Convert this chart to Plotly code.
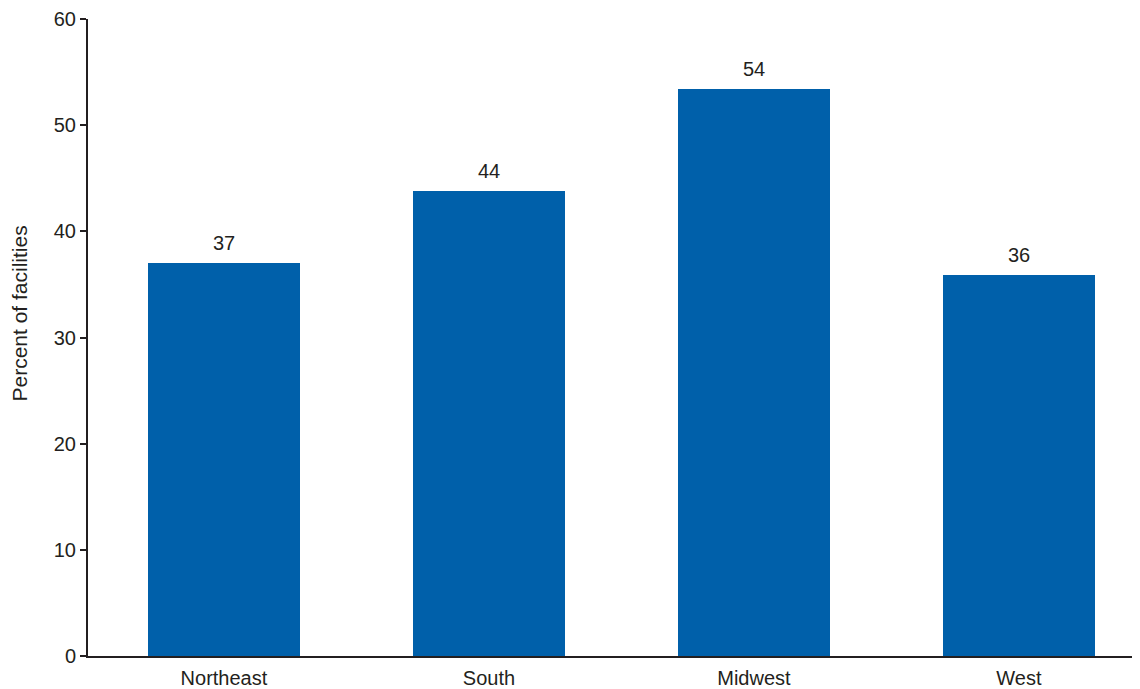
import plotly.graph_objects as go

regions = ["Northeast", "South", "Midwest", "West"]
values = [37.0, 43.8, 53.4, 35.9]
labels = ["37", "44", "54", "36"]
y_ticks = [0, 10, 20, 30, 40, 50, 60]

fig = go.Figure(go.Bar(
    x=list(range(len(regions))), y=values,
    marker=dict(color="#0060aa", line=dict(width=0)),
    width=0.574,
    cliponaxis=False,
))

for i, (v, t) in enumerate(zip(values, labels)):
    fig.add_annotation(x=i, y=v, text=t, showarrow=False, yanchor="bottom",
                       yshift=7, font=dict(size=20, color="#231f20"))

fig.add_annotation(text="Percent of facilities", textangle=-90, showarrow=False,
                   xref="paper", yref="paper", x=0, y=0.5376, xanchor="center",
                   yanchor="middle", xshift=-68, font=dict(size=21, color="#231f20"))

# page body has an 8px margin, so the figure is sized/offset to compensate
fig.update_layout(
    width=1132, height=681,
    margin=dict(l=80, r=0, t=10, b=32),
    paper_bgcolor="white", plot_bgcolor="white",
    font=dict(family="Liberation Sans, Arial, sans-serif", size=20, color="#231f20"),
    showlegend=False,
    bargap=0,
)
fig.update_xaxes(
    range=[-0.513, 3.457],
    tickmode="array", tickvals=list(range(len(regions))), ticktext=regions,
    showline=True, linecolor="#231f20", linewidth=2,
    ticks="outside", ticklen=3, tickcolor="rgba(0,0,0,0)",
    showgrid=False, zeroline=False,
    tickfont=dict(size=20),
)
fig.update_yaxes(
    range=[0, 60], tickvals=y_ticks,
    showline=True, linecolor="#231f20", linewidth=2,
    ticks="outside", ticklen=6, tickwidth=2, tickcolor="#231f20",
    showgrid=False, zeroline=False,
    ticklabeloverflow="allow",
    tickfont=dict(size=20),
)
fig.write_html("out.html")
